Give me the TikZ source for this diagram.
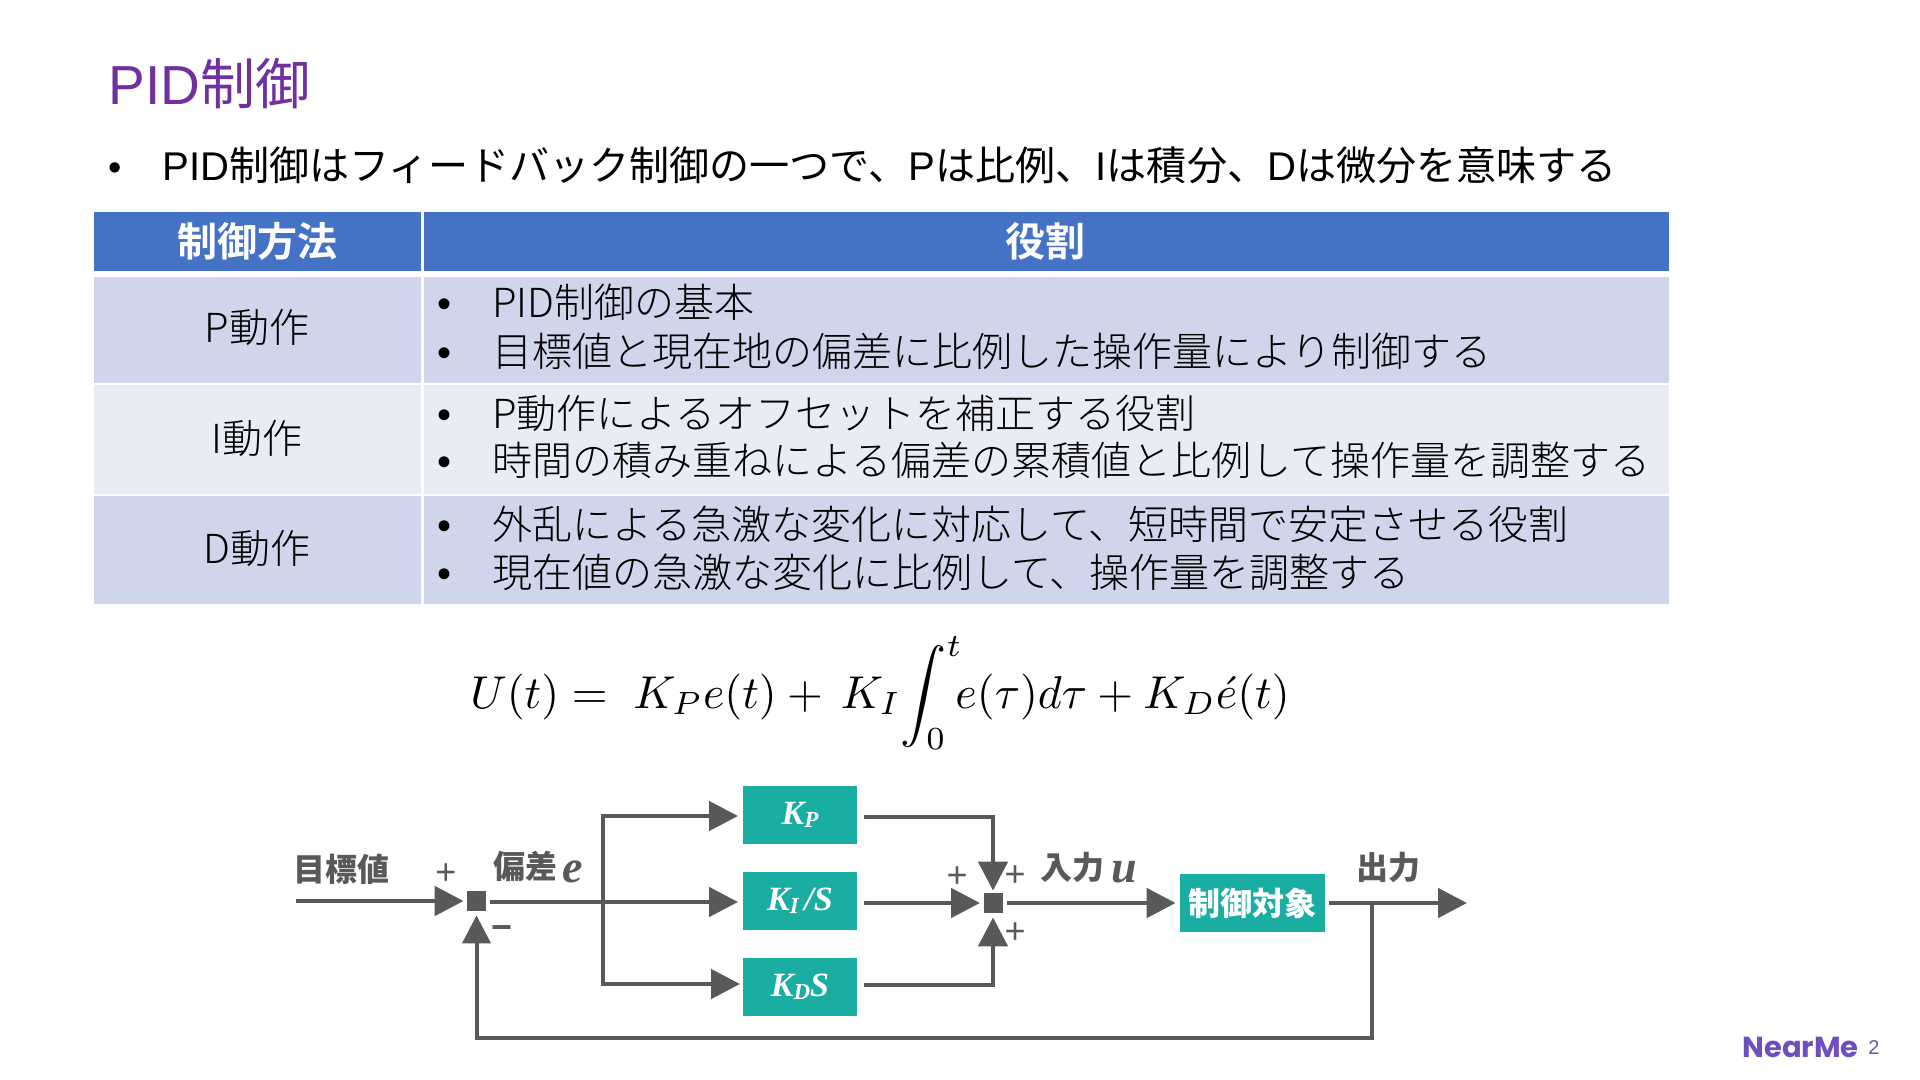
\documentclass[tikz,border=0pt]{standalone}
\usepackage{fontspec}
\usepackage{graphicx}
\usetikzlibrary{arrows.meta}
\setmainfont{Liberation Sans}
\newfontfamily\jp{Noto Sans CJK JP}
\newfontfamily\jpl{Noto Sans CJK JP Light}
\newfontfamily\jpb{Noto Sans CJK JP Bold}
\newfontfamily\jpk{Noto Sans CJK JP Black}
\newfontfamily\srf{Liberation Serif}
\newfontfamily\logofont{Poppins}
\newcommand{\fsz}[1]{\fontsize{#1}{#1}\selectfont}
\definecolor{tealbox}{HTML}{1AADA2}
\definecolor{flow}{HTML}{595959}
\definecolor{hdr}{HTML}{4472C4}
\definecolor{rowa}{HTML}{CFD5EA}
\definecolor{rowb}{HTML}{E9EBF5}
\definecolor{ttl}{HTML}{7030A0}
\definecolor{logoc}{HTML}{6F4FC0}
\newcommand{\kb}[1]{{\srf\bfseries\itshape\fsz{17}K\raisebox{-1.5pt}{\fsz{11.5}#1}}}
\tikzset{
  txt/.style={inner sep=0pt,anchor=base west,text=#1},
  txt/.default=black,
  cellc/.style={inner sep=0pt,anchor=base,text=#1},
  cellc/.default=black,
  block/.style={fill=tealbox,inner sep=0pt,minimum width=57pt,minimum height=29pt,text=white},
  sumbox/.style={fill=flow,inner sep=0pt,minimum width=9.5pt,minimum height=10pt},
  conn/.style={draw=flow,line width=2.4pt,-{Triangle[length=14.5pt,width=14.5pt]}},
  fbline/.style={draw=flow,line width=2pt},
  sign/.style={inner sep=0pt,text=flow,font=\fsz{18}},
  glabel/.style={inner sep=0pt,anchor=base west,text=flow,font=\jpk\fsz{16}},
  varlabel/.style={inner sep=0pt,anchor=base west,text=flow,font=\srf\bfseries\itshape\fsz{23}},
}
\begin{document}
\begin{tikzpicture}[x=0.5pt,y=-0.5pt]
\useasboundingbox (0,0) rectangle (1920,1080);
\fill[white] (0,0) rectangle (1920,1080);
% title
\node[txt=ttl] (title) at (108,105) {\fsz{27.5}PID{\jp 制御}};
\node[txt] (lead) at (108,181) {\fsz{19}•};
\node[txt] (leadtext) at (162,181) {\fsz{20.05}PID{\jp 制御はフィードバック制御の一つで、}P{\jp は比例、}I{\jp は積分、}D{\jp は微分を意味する}};
% table
\fill[hdr] (94,212) rectangle (421,271);
\fill[hdr] (424,212) rectangle (1669,271);
\fill[rowa] (94,277) rectangle (421,383);
\fill[rowa] (424,277) rectangle (1669,383);
\fill[rowb] (94,385) rectangle (421,494);
\fill[rowb] (424,385) rectangle (1669,494);
\fill[rowa] (94,496) rectangle (421,604);
\fill[rowa] (424,496) rectangle (1669,604);
\node[cellc=white] (h1) at (257,257) {\jpb\fsz{20}制御方法};
\node[cellc=white] (h2) at (1045,257) {\jpb\fsz{20}役割};
\node[cellc] (r1) at (257,343) {\jpl\fsz{20}P動作};
\node[cellc] (r2) at (257,453) {\jpl\fsz{20}I動作};
\node[cellc] (r3) at (257,563) {\jpl\fsz{20}D動作};
\foreach \y/\n in {318/a,366/b,428/c,475/d,539/e,587/f}{
  \node[txt] (bul\n) at (437,\y) {\fsz{20}•};
}
\node[txt] (ta) at (492,318) {\jpl\fsz{20}PID制御の基本};
\node[txt] (tb) at (492,366) {\jpl\fsz{20}目標値と現在地の偏差に比例した操作量により制御する};
\node[txt] (tc) at (492,428) {\jpl\fsz{20}P動作によるオフセットを補正する役割};
\node[txt] (td) at (492,475) {\jpl\fsz{20}時間の積み重ねによる偏差の累積値と比例して操作量を調整する};
\node[txt] (te) at (492,539) {\jpl\fsz{20}外乱による急激な変化に対応して、短時間で安定させる役割};
\node[txt] (tf) at (492,587) {\jpl\fsz{20}現在値の急激な変化に比例して、操作量を調整する};
% formula
\node[inner sep=0pt,anchor=base west] (formula) at (470,708) {\scalebox{2.3}{$\displaystyle U(t)=\;K_{P}e(t)+\,K_{I}\!\int_{0}^{t}\!\!e(\tau)d\tau+K_{D}\acute{e}(t)$}};
% blocks
\node[block] (kp) at (800,815) {\raisebox{-2pt}{\kb{P}}};
\node[block] (ki) at (800,901) {\raisebox{-1pt}{\kb{I}{\srf\bfseries\itshape\fsz{17}\,/S}}};
\node[block] (kd) at (800,987) {\raisebox{-1pt}{\kb{D}{\srf\bfseries\itshape\fsz{17}S}}};
\node[block,minimum width=72.5pt] (plant) at (1252.5,903) {\jpk\fsz{16}制御対象};
\node[sumbox] (sa) at (476.5,901) {};
\node[sumbox] (sb) at (993,903) {};
\coordinate (start) at (296,901);
\coordinate (br) at (603,902);
\coordinate (saout) at (486,902);
\coordinate (kiin) at (743,902);
\coordinate (kpin) at (743,816);
\coordinate (kdin) at (743,984);
\coordinate (kpout) at (857,817);
\coordinate (kiout) at (857,903);
\coordinate (kdout) at (857,985);
\coordinate (sbwest) at (983,903);
\coordinate (outend) at (1467,903);
\coordinate (fb) at (1372,903);
\coordinate (low) at (476.5,1038);
% connectors
\draw[conn,shorten >=1.5pt] (start) -- (sa.west);
\draw[conn,shorten <=2pt,shorten >=2.5pt] (saout) -- (kiin);
\draw[conn,shorten >=2.5pt] (br) |- (kpin);
\draw[conn,shorten >=1.5pt] (br) |- (kdin);
\draw[conn,shorten <=3.5pt,shorten >=1pt] (kpout) -| (sb.north);
\draw[conn,shorten <=3.5pt,shorten >=1.5pt] (kiout) -- (sbwest);
\draw[conn,shorten <=3.5pt,shorten >=2pt] (kdout) -| (sb.south);
\draw[conn,shorten <=2pt,shorten >=2pt] (sb.east) -- (plant.west);
\draw[conn,shorten <=2pt] (plant.east) -- (outend);
\draw[fbline,-{Triangle[length=14pt,width=14pt]},shorten >=2pt] (fb) |- (low) -- (sa.south);
% labels
\node[glabel] (lset) at (293,881) {目標値};
\node[glabel] (lerr) at (493,878) {偏差};
\node[varlabel] (lerrv) at (562,882) {e};
\node[glabel] (lin) at (1040,879) {入力};
\node[varlabel] (linv) at (1111,882) {u};
\node[glabel] (lout) at (1356,879) {出力};
\node[sign] (pa) at (446,874) {+};
\node[sign,font=\bfseries\fsz{18}] (ma) at (502,933) {−};
\node[sign] (pb) at (957,877) {+};
\node[sign] (pc) at (1015,876) {+};
\node[sign] (pd) at (1015,933) {+};
% logo
\node[txt=logoc] (logo) at (1742,1057) {\logofont\bfseries\fsz{14.5}NearMe};
\node[txt=logoc] (pg) at (1868,1054) {\fsz{10}2};
\end{tikzpicture}
\end{document}
